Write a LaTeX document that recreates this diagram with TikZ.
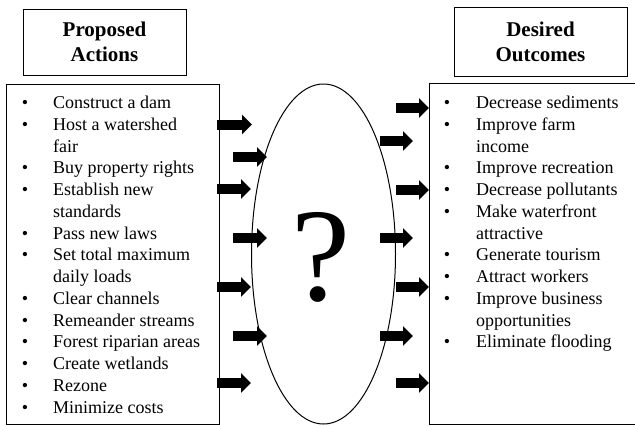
\documentclass[tikz,border=0pt]{standalone}
\usepackage{fontspec}
\setmainfont{Liberation Serif}
\usetikzlibrary{arrows.meta,shapes.geometric}
\begin{document}
\begin{tikzpicture}[x=1pt,y=-1pt,
  box/.style={draw,line width=1pt},
  hdr/.style={font=\fontsize{21}{25.5}\selectfont\bfseries, anchor=base, inner sep=0pt},
  itemtxt/.style={font=\fontsize{18}{21.75}\selectfont, anchor=base west, inner sep=0pt},
  bul/.style={font=\fontsize{18}{21.75}\selectfont, anchor=base, inner sep=0pt},
  blockarrow/.style={line width=10pt, -{Triangle[length=10pt,width=19pt]}}]
\useasboundingbox (0,0) rectangle (635,426);
% headers
\node[box, minimum width=163pt, minimum height=66pt, anchor=north west] (PAbox) at (23,9) {};
\node[hdr] (PA1) at (104.5,36.3) {Proposed};
\node[hdr] (PA2) at (104.5,61.8) {Actions};
\node[box, minimum width=173pt, minimum height=69pt, anchor=north west] (DObox) at (454,7) {};
\node[hdr] (DO1) at (540.5,36.3) {Desired};
\node[hdr] (DO2) at (540.5,61.8) {Outcomes};
% list boxes
\draw[box] (6,84) rectangle (219,424.5);
\draw[box] (640,83) -- (429,83) -- (429,424.5) -- (640,424.5);
% left list
\foreach \t/\b [count=\i] in {Construct a dam/1, Host a watershed/1, fair/0,
  Buy property rights/1, Establish new/1, standards/0, Pass new laws/1,
  Set total maximum/1, daily loads/0, Clear channels/1, Remeander streams/1,
  Forest riparian areas/1, Create wetlands/1, Rezone/1, Minimize costs/1}{
  \node[itemtxt] (L\i) at (53,{108.5+21.75*(\i-1)}) {\t};
  \ifnum\b=1 \node[bul] (LB\i) at (25,{108.5+21.75*(\i-1)}) {\textbullet};\fi
}
% right list
\foreach \t/\b [count=\i] in {Decrease sediments/1, Improve farm/1, income/0,
  Improve recreation/1, Decrease pollutants/1, Make waterfront/1, attractive/0,
  Generate tourism/1, Attract workers/1, Improve business/1, opportunities/0,
  Eliminate flooding/1}{
  \node[itemtxt] (R\i) at (476,{108.5+21.75*(\i-1)}) {\t};
  \ifnum\b=1 \node[bul] (RB\i) at (447,{108.5+21.75*(\i-1)}) {\textbullet};\fi
}
% ellipse and question mark
\node[draw, line width=1pt, ellipse, inner sep=0pt, minimum width=144pt, minimum height=340pt] (E) at (323.5,254) {};
\node[anchor=base, inner sep=0pt, font=\fontsize{133}{140}\selectfont] (Q) at (321.5,300) {?};
% left arrows
\foreach \xs/\xe/\y in {217/252/124.5, 233/267/157, 217/251/189, 233/267/238,
  217/251/287, 233/267/336, 217/251/383}{
  \draw[blockarrow] (\xs,\y) -- (\xe,\y);
}
% right arrows
\foreach \xs/\xe/\y in {396/429/108, 380/413/141, 396/429/190, 380/413/238,
  396/429/287, 380/413/336, 396/429/383}{
  \draw[blockarrow] (\xs,\y) -- (\xe,\y);
}
\end{tikzpicture}
\end{document}
